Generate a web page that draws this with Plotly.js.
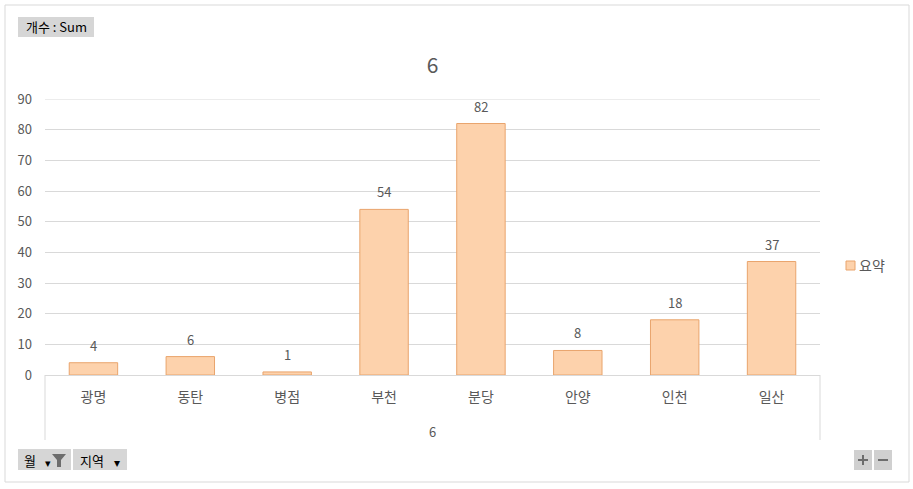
<!DOCTYPE html>
<html>
<head>
<meta charset="utf-8">
<script src="https://cdn.plot.ly/plotly-3.0.1.min.js"></script>
<style>html,body{margin:0;padding:0;background:#fff;}#chart{width:913px;height:489px;}</style>
</head>
<body>
<div id="chart"></div>
<script>
const monthLabel = "6";
const regions = ["광명", "동탄", "병점", "부천", "분당", "안양", "인천", "일산"];
const counts = [4, 6, 1, 54, 82, 8, 18, 37];
const seriesName = "요약";
const chartTitle = "6";
const yTicks = [0, 10, 20, 30, 40, 50, 60, 70, 80, 90];

const FONT = "'Noto Sans CJK KR', 'Noto Sans', sans-serif";
const GRAY = "#595959";

// pixel -> paper helpers (plot area: x 45..820, y 99..375)
const L = 45, R = 820, T = 99, B = 375;
const px = x => (x - L) / (R - L);
const py = y => (B - y) / (B - T);

const trace = {
  type: "bar",
  x: regions,
  y: counts,
  name: seriesName,
  marker: { color: "#fdd2ac", line: { color: "#e9a46c", width: 1 } },
  showlegend: false,
  hoverinfo: "x+y"
};

function rect(x0, y0, x1, y1, fill, line) {
  return { type: "rect", xref: "paper", yref: "paper",
    x0: px(x0), x1: px(x1), y0: py(y1), y1: py(y0),
    fillcolor: fill, line: { color: line || fill, width: line ? 1 : 0 }, layer: "below" };
}
function label(x, y, text, size, color, anchor) {
  return { xref: "paper", yref: "paper", x: px(x), y: py(y), text: text, showarrow: false,
    xanchor: anchor || "center", yanchor: "middle", font: { family: FONT, size: size, color: color || "#000" } };
}
function vline(x, y0, y1, color) {
  return { type: "line", xref: "paper", yref: "paper", x0: px(x), x1: px(x), y0: py(y0), y1: py(y1),
    line: { color: color, width: 1 } };
}

const shapes = [
  // outer border
  { type: "rect", xref: "paper", yref: "paper", x0: px(5), x1: px(909), y0: py(482), y1: py(5),
    line: { color: "#d9d9d9", width: 1 }, fillcolor: "rgba(0,0,0,0)", layer: "below" },
  // top gridline
  { type: "line", xref: "paper", yref: "y", x0: 0, x1: 1, y0: yTicks[yTicks.length - 1], y1: yTicks[yTicks.length - 1],
    line: { color: "#d9d9d9", width: 1 }, layer: "below" },
  // category box dividers
  vline(45, 375, 440, "#d9d9d9"),
  vline(820, 375, 440, "#d9d9d9"),
  rect(18, 17, 94, 37, "#d6d6d6"),
  rect(18, 449, 71, 470, "#d6d6d6"),
  rect(73, 449, 127, 470, "#d6d6d6"),
  rect(854, 450, 872, 470, "#d0d0d0"),
  rect(874, 450, 892, 470, "#d0d0d0"),
  // legend swatch
  { type: "rect", xref: "paper", yref: "paper", x0: px(846), x1: px(855), y0: py(270), y1: py(261),
    fillcolor: "#fdd2ac", line: { color: "#e9a46c", width: 1 } },
  // funnel icon
  { type: "path", xref: "paper", yref: "paper",
    path: `M ${px(52)} ${py(454)} L ${px(66)} ${py(454)} L ${px(61)} ${py(460)} L ${px(61)} ${py(467)} L ${px(57)} ${py(467)} L ${px(57)} ${py(460)} Z`,
    fillcolor: "#6d6d6d", line: { width: 0 } },
  // plus / minus
  { type: "line", xref: "paper", yref: "paper", x0: px(858), x1: px(868), y0: py(460), y1: py(460), line: { color: "#6d6d6d", width: 2 } },
  { type: "line", xref: "paper", yref: "paper", x0: px(863), x1: px(863), y0: py(455), y1: py(465), line: { color: "#6d6d6d", width: 2 } },
  { type: "line", xref: "paper", yref: "paper", x0: px(878), x1: px(888), y0: py(460), y1: py(460), line: { color: "#6d6d6d", width: 2 } }
];

const annotations = [
  label(56, 27, "개수 : Sum", 13, "#000"),
  label(30, 460, "월", 13, "#000"),
  label(48, 462, "▾", 11, "#000"),
  label(92, 460, "지역", 13, "#000"),
  label(117, 461, "▾", 12, "#000"),
  label(432, 431, monthLabel, 13, GRAY),
  label(857, 265, seriesName, 14, GRAY, "left")
].concat(regions.map((r, i) => ({
  x: r, y: counts[i], xref: "x", yref: "y", text: String(counts[i]), showarrow: false,
  yanchor: "bottom", yshift: 6, font: { family: FONT, size: 13, color: GRAY }
})));

const layout = {
  width: 913, height: 489,
  margin: { l: L, r: 913 - R, t: T, b: 489 - B, pad: 0, autoexpand: false },
  paper_bgcolor: "#fff", plot_bgcolor: "#fff",
  font: { family: FONT, color: GRAY, size: 13 },
  title: { text: chartTitle, font: { family: FONT, size: 21, color: GRAY },
    x: 0.5, xref: "paper", xanchor: "center", y: 1 - 66 / 489, yanchor: "middle" },
  bargap: 0.5,
  xaxis: {
    type: "category",
    showgrid: false, zeroline: false,
    showline: true, linecolor: "#d9d9d9", linewidth: 1,
    ticks: "", tickfont: { family: FONT, size: 14, color: GRAY }, ticklabelstandoff: 9
  },
  yaxis: {
    range: [0, 90], tickvals: yTicks, ticktext: yTicks.map(String),
    showgrid: true, gridcolor: "#d9d9d9", gridwidth: 1,
    zeroline: false, showline: false, ticks: "",
    tickfont: { family: FONT, size: 13, color: GRAY }, ticklabelstandoff: 12
  },
  showlegend: false,
  shapes: shapes,
  annotations: annotations
};

Plotly.newPlot("chart", [trace], layout, { displayModeBar: false, staticPlot: true });
</script>
</body>
</html>
